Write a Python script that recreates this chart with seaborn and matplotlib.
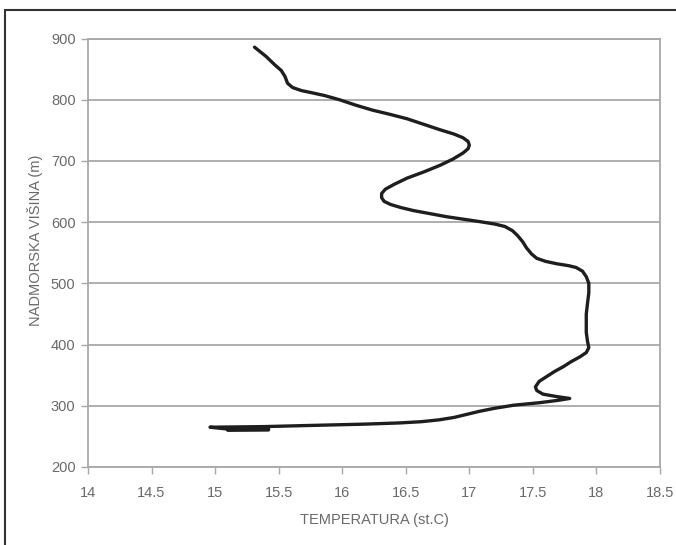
import matplotlib
matplotlib.use("Agg")
import matplotlib.pyplot as plt
import seaborn as sns
import pandas as pd
from matplotlib.patches import Rectangle

# Data (temperature in deg C, altitude in m), in drawing order
temperature = [15.31, 15.40, 15.47, 15.52, 15.55, 15.57, 15.61, 15.68, 15.75, 15.86,
               15.98, 16.11, 16.24, 16.38, 16.51, 16.64, 16.77, 16.88, 16.95, 16.99,
               17.00, 16.99, 16.95, 16.87, 16.77, 16.64, 16.51, 16.41, 16.34, 16.31,
               16.31, 16.33, 16.38, 16.46, 16.56, 16.69, 16.82, 16.95, 17.08, 17.20,
               17.28, 17.34, 17.38, 17.42, 17.45, 17.49, 17.53, 17.60, 17.69, 17.78,
               17.84, 17.89, 17.92, 17.94, 17.94, 17.93, 17.92, 17.92, 17.93, 17.94,
               17.92, 17.87, 17.80, 17.74, 17.67, 17.61, 17.55, 17.52, 17.53, 17.58,
               17.69, 17.79, 17.70, 17.55, 17.35, 17.20, 17.08, 16.98, 16.88, 16.76,
               16.62, 16.45, 16.17, 15.77, 15.38, 14.96, 15.10, 15.42, 15.42, 15.10]
altitude = [886, 871, 857, 848, 838, 827, 820, 815, 812, 807,
            800, 791, 783, 776, 769, 760, 751, 744, 738, 732,
            726, 720, 713, 703, 693, 682, 672, 662, 654, 647,
            640, 634, 629, 624, 619, 614, 609, 605, 601, 597,
            593, 586, 578, 568, 558, 548, 541, 536, 532, 529,
            526, 520, 511, 500, 485, 468, 450, 420, 405, 395,
            387, 380, 372, 364, 356, 348, 340, 331, 325, 319,
            315, 312, 309, 305, 301, 296, 291, 286, 281, 277,
            274, 272, 270, 268, 266, 265, 262, 262.5, 260.5, 260]

x_ticks = [14, 14.5, 15, 15.5, 16, 16.5, 17, 17.5, 18, 18.5]
x_tick_labels = ["14", "14.5", "15", "15.5", "16", "16.5", "17", "17.5", "18", "18.5"]
y_ticks = [200, 300, 400, 500, 600, 700, 800, 900]
y_tick_labels = ["200", "300", "400", "500", "600", "700", "800", "900"]
x_label = "TEMPERATURA (st.C)"
y_label = "NADMORSKA VIŠINA (m)"

sns.set_theme(style="white")
plt.rcParams["font.family"] = ["Liberation Sans Narrow", "Liberation Sans", "DejaVu Sans"]

df = pd.DataFrame({"T": temperature, "H": altitude})

fig = plt.figure(figsize=(6.76, 5.45), dpi=100)
fig.patch.set_facecolor("white")
ax = fig.add_axes([88 / 676, 1 - 467 / 545, (660 - 88) / 676, (467 - 38.6) / 545])

sns.lineplot(data=df, x="T", y="H", sort=False, estimator=None, ax=ax,
             color="#1e1e1e", linewidth=2.4, zorder=3)
for l in ax.get_lines():
    l.set_solid_joinstyle("round")
    l.set_solid_capstyle("round")

ax.set_xlim(14, 18.5)
ax.set_ylim(200, 900)
ax.set_xticks(x_ticks)
ax.set_xticklabels(x_tick_labels)
ax.set_yticks(y_ticks)
ax.set_yticklabels(y_tick_labels)

grid_c = "#a8a8a8"
ax.grid(axis="y", color=grid_c, linewidth=1.3)
ax.grid(axis="x", visible=False)
for s in ax.spines.values():
    s.set_color(grid_c)
    s.set_linewidth(1.3)

ax.tick_params(axis="both", which="both", direction="out", length=5, width=1,
               color=grid_c, labelcolor="#6a6a6a", labelsize=10.5)
ax.tick_params(axis="x", pad=9, bottom=True)
ax.tick_params(axis="y", pad=4, left=True)

ax.set_xlabel(x_label, color="#6a6a6a", fontsize=10.5, labelpad=9)
ax.set_ylabel(y_label, color="#6a6a6a", fontsize=10.5, labelpad=8)
ax.yaxis.set_label_coords(-0.078, 0.53)

# outer frame of the figure
fig.patches.append(Rectangle((5 / 676, -0.05), 1.2, 1 - 10 / 545 + 0.05,
                             transform=fig.transFigure, fill=False,
                             edgecolor="#333333", linewidth=1.5))

fig.savefig("out.png", dpi=100)
